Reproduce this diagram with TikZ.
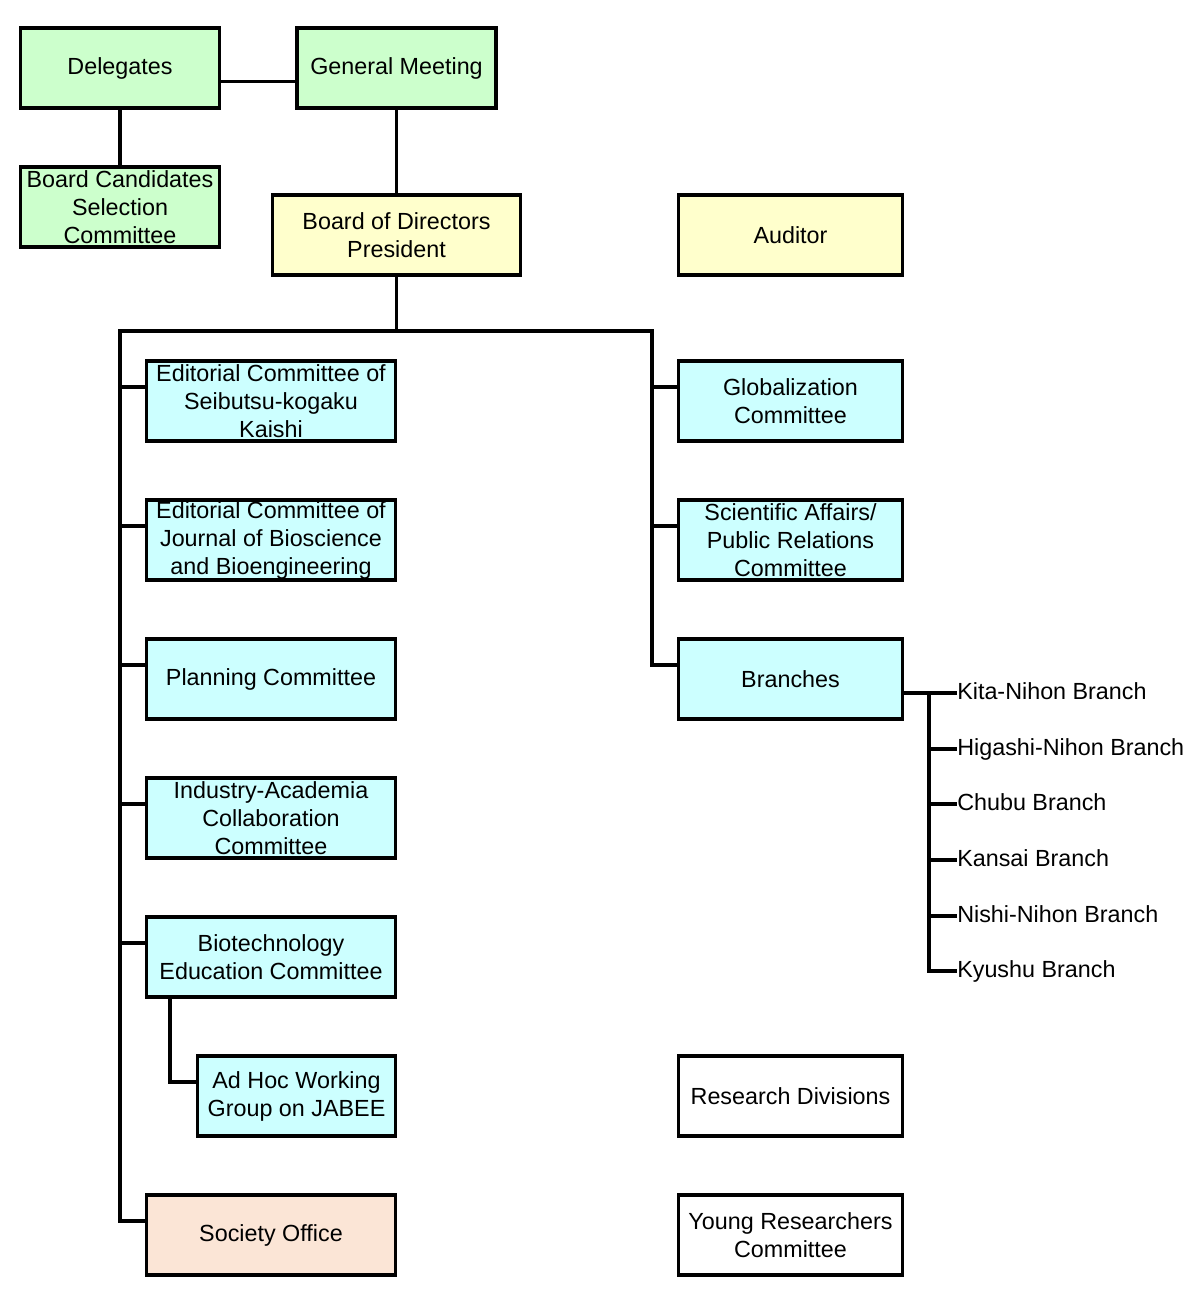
\documentclass[tikz,border=0pt]{standalone}
\usepackage{fontspec}
\setmainfont{Liberation Sans}
\definecolor{cgreen}{RGB}{204,255,204}
\definecolor{cyellow}{RGB}{255,255,204}
\definecolor{ccyan}{RGB}{204,255,255}
\definecolor{cpeach}{RGB}{251,229,214}
\begin{document}
\begin{tikzpicture}[x=0.75pt,y=-0.75pt,
  box/.style={draw=black,line width=2.3pt,align=center,inner sep=0pt,
    font=\fontsize{17.5pt}{21pt}\selectfont},
  small/.style={box,minimum width=149.25pt,minimum height=60pt},
  wide/.style={box,minimum width=186.75pt,minimum height=60pt},
  rbox/.style={box,minimum width=168pt,minimum height=60pt},
  conn/.style={line width=2.3pt},
  lbl/.style={anchor=west,inner sep=0pt,text height=12.5pt,text depth=3.5pt,
    font=\fontsize{17.5pt}{21pt}\selectfont}]
\useasboundingbox[fill=white] (0,0) rectangle (1200,1299);

% top
\node[small,fill=cgreen] (del) at (120,68) {Delegates};
\node[small,fill=cgreen] (gm) at (396.5,68) {General Meeting};
\node[small,fill=cgreen] (bcsc) at (120,207) {Board Candidates\\Selection\\Committee};
\node[box,fill=cyellow,minimum width=186pt,minimum height=60pt] (bod) at (396.5,235) {Board of Directors\\President};
\node[rbox,fill=cyellow] (aud) at (790.5,235) {Auditor};

% left column
\node[wide,fill=ccyan] (ed1) at (271,401) {Editorial Committee of\\Seibutsu-kogaku\\Kaishi};
\node[wide,fill=ccyan] (ed2) at (271,540) {Editorial Committee of\\Journal of Bioscience\\and Bioengineering};
\node[wide,fill=ccyan] (plan) at (271,679) {Planning Committee};
\node[wide,fill=ccyan] (ind) at (271,818) {Industry-Academia\\Collaboration\\Committee};
\node[wide,fill=ccyan] (bio) at (271,957) {Biotechnology\\Education Committee};
\node[box,fill=ccyan,minimum width=148.5pt,minimum height=60pt] (adhoc) at (296.5,1096) {Ad Hoc Working\\Group on JABEE};
\node[wide,fill=cpeach] (soc) at (271,1235) {Society Office};

% right column
\node[rbox,fill=ccyan] (glob) at (790.5,401) {Globalization\\Committee};
\node[rbox,fill=ccyan] (sci) at (790.5,540) {Scientific Affairs/\\Public Relations\\Committee};
\node[rbox,fill=ccyan] (br) at (790.5,679) {Branches};
\node[rbox,fill=white] (res) at (790.5,1096) {Research Divisions};
\node[rbox,fill=white] (young) at (790.5,1235) {Young Researchers\\Committee};

% branch labels
\node[lbl] (b1) at (957,693) {Kita-Nihon Branch};
\node[lbl] (b2) at (957,749) {Higashi-Nihon Branch};
\node[lbl] (b3) at (957,804) {Chubu Branch};
\node[lbl] (b4) at (957,860) {Kansai Branch};
\node[lbl] (b5) at (957,916) {Nishi-Nihon Branch};
\node[lbl] (b6) at (957,971) {Kyushu Branch};

% junction coordinates
\coordinate (top) at (396.5,331);
\coordinate (L) at (120,331);
\coordinate (R) at (652,331);
\coordinate (bj) at (929,693);
\foreach \n in {ed1,ed2,plan,ind,bio,soc,glob,sci,br,adhoc}{
  \coordinate (\n t) at ([yshift=10.5pt]\n.west);
}
\coordinate (delc) at ([yshift=-10pt]del.east);
\coordinate (gmc) at ([yshift=-10pt]gm.west);
\coordinate (bioc) at ([xshift=18.75pt]bio.south west);

% connectors
\draw[conn] (delc) -- (gmc);
\draw[conn] (del.south) -- (bcsc.north);
\draw[conn] (gm.south) -- (bod.north);
\draw[conn] (bod.south) -- (top);
\draw[conn,line cap=rect] (L) -- (R);

\foreach \n in {ed1,ed2,plan,ind,bio}{
  \draw[conn] (L |- \n t) -- (\n t);
}
\draw[conn] (L) |- (soct);

\foreach \n in {glob,sci}{
  \draw[conn] (R |- \n t) -- (\n t);
}
\draw[conn] (R) |- (brt);

\draw[conn] (bioc) |- (adhoct);

\draw[conn] (br.east |- b1.west) -- (b1.west);
\draw[conn] (bj |- b1.west) |- (b6.west);
\foreach \n in {b2,b3,b4,b5}{
  \draw[conn] (bj |- \n.west) -- (\n.west);
}
\end{tikzpicture}
\end{document}
